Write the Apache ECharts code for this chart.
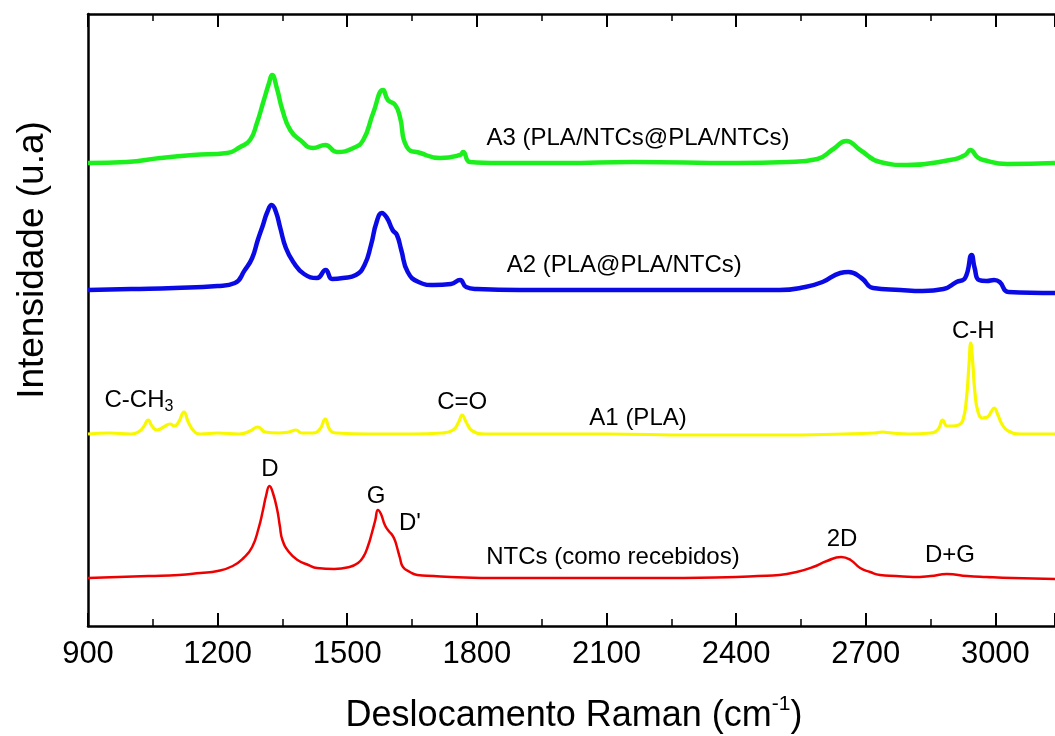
<!DOCTYPE html>
<html>
<head>
<meta charset="utf-8">
<script src="https://cdn.jsdelivr.net/npm/echarts@6/dist/echarts.min.js"></script>
<style>
  html, body { margin: 0; padding: 0; background: #fff; }
  #chart { width: 1055px; height: 736px; }
</style>
</head>
<body>
<div id="chart"></div>
<script>
// Raman spectra (arbitrary units), each relative to its own baseline.
// Spectra are stacked vertically with a constant offset per sample.

// NTCs (como recebidos)
const ntcsShift = [900,1040,1110,1160,1200,1235,1260,1280,1295,1305,1312,1320,1328,1338,1344,1350,1365,1385,1410,1430,1470,1505,1525,1537,1548,1557,1565,1571,1578,1587,1596,1604,1610,1615,1622,1629,1645,1662,1700,1740,1850,2000,2200,2400,2450,2500,2540,2578,2610,2643,2665,2687,2710,2733,2770,2810,2850,2888,2935,2980,3040,3138];
const ntcsInt   = [0,2,3,5,7,12,20,31,50,68,82,92,85,68,52,38,26,18,13,10,9,11,15,21,32,45,58,68,64,53,47,43,38,31,20,11,6,3,2,1,0,0,0,1,2,3,6,11,17,21,18,10,6,3,2,1,2,4,2,1,0,-1];

// A1 (PLA)
const a1Shift = [900,950,1000,1020,1030,1039,1048,1060,1075,1090,1100,1110,1122,1132,1145,1160,1200,1250,1275,1293,1310,1340,1365,1381,1395,1420,1437,1449,1460,1475,1550,1650,1720,1745,1758,1766,1775,1790,1820,1950,2100,2300,2500,2650,2720,2738,2760,2800,2850,2868,2878,2888,2900,2915,2925,2933,2939,2943,2947,2953,2960,2970,2982,2990,2997,3005,3015,3030,3060,3100,3138];
const a1Int   = [0,1,0,3,8,14,8,4,7,10,8,12,22,12,3,0,1,0,3,7,2,1,2,4,1,1,5,15,4,1,0,0,1,4,12,19,12,3,0,0,0,-1,-1,0,1,2,1,0,1,5,14,8,8,9,14,35,70,91,75,40,22,16,17,22,26,20,10,3,0,0,0];

// A2 (PLA@PLA/NTCs)
const a2Shift = [900,1000,1100,1200,1240,1263,1280,1293,1305,1315,1325,1335,1345,1358,1375,1400,1430,1450,1465,1490,1520,1540,1555,1568,1580,1592,1605,1615,1625,1640,1665,1700,1740,1761,1775,1800,1900,2100,2300,2500,2560,2600,2641,2660,2690,2717,2780,2832,2880,2910,2930,2945,2952,2962,2980,2997,3010,3030,3138];
const a2Int   = [0,1,2,4,7,20,32,50,65,78,85,78,62,42,28,16,12,20,11,12,15,25,45,68,77,72,60,55,40,18,8,5,6,10,3,1,0,0,0,0,3,8,17,18,12,2,0,-1,1,8,12,35,22,10,9,10,8,-2,-3];

// A3 (PLA/NTCs@PLA/NTCs)
const a3Shift = [900,990,1067,1143,1222,1252,1275,1291,1305,1319,1326,1337,1350,1368,1391,1421,1449,1476,1514,1537,1560,1583,1594,1611,1622,1638,1669,1715,1761,1768,1784,1850,2000,2162,2400,2520,2588,2625,2655,2687,2733,2796,2895,2930,2942,2958,2972,3027,3138];
const a3Int   = [0,1,5,8,10,16,23,40,60,80,88,75,53,33,23,15,18,11,15,23,50,73,63,58,46,16,10,5,8,11,1,0,0,1,0,1,4,14,22,13,1,-2,3,8,13,6,3,-1,0];

// vertical offsets used to stack the spectra
const offsets = { ntcs: 48, a1: 192, a2: 336, a3: 463 };

// x axis tick values (cm-1)
const xTicks = [900, 1200, 1500, 1800, 2100, 2400, 2700, 3000];

// text annotations: [label, shift (cm-1), stacked intensity]
const annotations = [
  ['A3 (PLA/NTCs@PLA/NTCs)', 2173, 488],
  ['A2 (PLA@PLA/NTCs)', 2141, 361],
  ['A1 (PLA)', 2173, 208],
  ['NTCs (como recebidos)', 2115, 69],
  ['{m|C-CH}{sub|3}', 1018, 226],
  ['C=O', 1766, 224],
  ['C-H', 2949, 295],
  ['D', 1321, 157],
  ['G', 1567, 130],
  ["D'", 1645, 103],
  ['2D', 2645, 87],
  ['D+G', 2895, 71]
];

function stack(xs, ys, off) {
  return xs.map((x, i) => [x, ys[i] + off]);
}

const chart = echarts.init(document.getElementById('chart'), null, { renderer: 'canvas' });

const FONT = 'Liberation Sans, Arial, sans-serif';
const axisCommon = {
  type: 'value',
  min: 900,
  max: 3138,
  interval: 300,
  axisLine: { show: true, onZero: false, lineStyle: { color: '#000', width: 2.5 } },
  axisTick: { show: true, inside: true, length: 13, lineStyle: { color: '#000', width: 2 } },
  minorTick: { show: true, splitNumber: 2, length: 7, lineStyle: { color: '#000', width: 1.5 } },
  splitLine: { show: false },
  minorSplitLine: { show: false }
};

function line(name, data, color, width) {
  return {
    name, type: 'line', data,
    showSymbol: false, symbol: 'none',
    smooth: 0.5,
    lineStyle: { color, width },
    silent: true, animation: false, z: 2
  };
}

chart.setOption({
  animation: false,
  backgroundColor: '#fff',
  grid: { left: 88, top: 14, bottom: 110, right: 0, containLabel: false },
  xAxis: [
    Object.assign({}, axisCommon, {
      position: 'bottom',
      axisLabel: {
        show: true, margin: 13, color: '#000', fontSize: 31, fontFamily: FONT,
        showMaxLabel: false,
        formatter: v => (xTicks.indexOf(v) >= 0 ? String(v) : '')
      }
    }),
    Object.assign({}, axisCommon, {
      position: 'top',
      axisLabel: { show: false }
    })
  ],
  yAxis: {
    type: 'value', min: 0, max: 612,
    axisLine: { show: true, lineStyle: { color: '#000', width: 2.5 } },
    axisTick: { show: false },
    axisLabel: { show: false },
    splitLine: { show: false }
  },
  series: [
    line('NTCs (como recebidos)', stack(ntcsShift, ntcsInt, offsets.ntcs), '#ee0000', 2.5),
    line('A1 (PLA)', stack(a1Shift, a1Int, offsets.a1), '#f8f800', 3.2),
    line('A2 (PLA@PLA/NTCs)', stack(a2Shift, a2Int, offsets.a2), '#0a0ae6', 4.5),
    line('A3 (PLA/NTCs@PLA/NTCs)', stack(a3Shift, a3Int, offsets.a3), '#1cf01c', 4.5)
  ]
});

// place text labels in data coordinates
const graphics = annotations.map(([text, x, y]) => {
  const p = chart.convertToPixel({ xAxisIndex: 0, yAxisIndex: 0 }, [x, y]);
  return {
    type: 'text', x: p[0], y: p[1], z: 10,
    style: {
      text, fill: '#000', font: '24px ' + FONT,
      align: 'center', verticalAlign: 'middle',
      rich: {
        m: { fontSize: 24, fontFamily: FONT, lineHeight: 30 },
        sub: { fontSize: 16, fontFamily: FONT, verticalAlign: 'bottom', lineHeight: 30 }
      }
    }
  };
});

// axis titles
graphics.push({
  type: 'text', x: 574, y: 716, z: 10,
  style: {
    text: '{a|Deslocamento Raman (cm}{s|-1}{a|)}',
    align: 'center', verticalAlign: 'middle', fill: '#000',
    rich: {
      a: { fontSize: 36, fontFamily: FONT, lineHeight: 44 },
      s: { fontSize: 21, fontFamily: FONT, verticalAlign: 'top', lineHeight: 44 }
    }
  }
});
graphics.push({
  type: 'text', x: 33, y: 260, rotation: Math.PI / 2, z: 10,
  style: {
    text: 'Intensidade (u.a)', fill: '#000',
    font: '37px ' + FONT, align: 'center', verticalAlign: 'middle'
  }
});

chart.setOption({ graphic: graphics });
</script>
</body>
</html>
